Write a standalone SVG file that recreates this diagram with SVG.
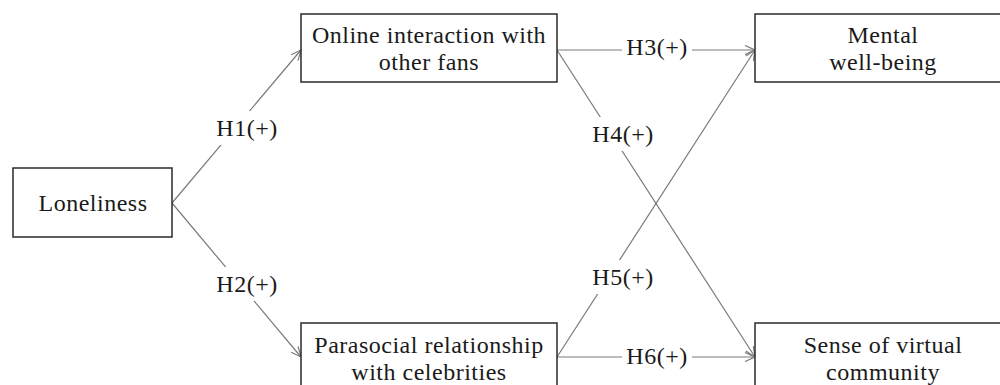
<svg xmlns="http://www.w3.org/2000/svg" width="1000" height="385" viewBox="0 0 1000 385">
<style>
.box{fill:#fff;stroke:#2a2a2a;stroke-width:1.5}
.t{font-family:"Liberation Serif","Times New Roman",serif;font-size:24px;fill:#1a1a1a;text-anchor:middle;letter-spacing:0.5px}
.edge{stroke:#7a7a7a;stroke-width:1.2;fill:none}
.lbg{fill:#fff;stroke:none}
</style>
<defs>
<marker id="arr" markerUnits="userSpaceOnUse" markerWidth="12" markerHeight="10" refX="11" refY="5" orient="auto" viewBox="0 0 12 10">
<path d="M1,0.5 L11,5 L1,9.5" fill="none" stroke="#7a7a7a" stroke-width="1.2"/>
</marker>
</defs>
<rect width="1000" height="385" fill="#fff"/>
<g id="connectors">
<line class="edge" x1="172" y1="203" x2="301" y2="50" marker-end="url(#arr)"/>
<line class="edge" x1="172" y1="203" x2="301" y2="357" marker-end="url(#arr)"/>
<line class="edge" x1="557" y1="50" x2="755" y2="50" marker-end="url(#arr)"/>
<line class="edge" x1="557" y1="50" x2="755" y2="357" marker-end="url(#arr)"/>
<line class="edge" x1="557" y1="357" x2="755" y2="50" marker-end="url(#arr)"/>
<line class="edge" x1="557" y1="357" x2="755" y2="357" marker-end="url(#arr)"/>
<g id="labels">
<rect class="lbg" x="213" y="111" width="68" height="34"/>
<text class="t" x="247" y="136">H1(+)</text>
<rect class="lbg" x="213" y="267" width="68" height="34"/>
<text class="t" x="247" y="292">H2(+)</text>
<rect class="lbg" x="622" y="32" width="70" height="32"/>
<text class="t" x="657" y="55">H3(+)</text>
<rect class="lbg" x="589" y="117" width="68" height="34"/>
<text class="t" x="623" y="142">H4(+)</text>
<rect class="lbg" x="589" y="260" width="68" height="34"/>
<text class="t" x="623" y="285">H5(+)</text>
<rect class="lbg" x="622" y="341" width="70" height="32"/>
<text class="t" x="657" y="364">H6(+)</text>
</g>
</g>
<g id="loneliness">
<rect class="box" x="13" y="168" width="159" height="69"/>
<text class="t" x="93" y="211">Loneliness</text>
</g>
<g id="online">
<rect class="box" x="301" y="14" width="256" height="68"/>
<text class="t" x="429" y="43">Online interaction with</text>
<text class="t" x="429" y="70">other fans</text>
</g>
<g id="parasocial">
<rect class="box" x="301" y="323" width="256" height="68"/>
<text class="t" x="429" y="353">Parasocial relationship</text>
<text class="t" x="429" y="380">with celebrities</text>
</g>
<g id="mental">
<rect class="box" x="755" y="14" width="256" height="68"/>
<text class="t" x="883" y="43">Mental</text>
<text class="t" x="883" y="70">well-being</text>
</g>
<g id="sense">
<rect class="box" x="755" y="323" width="256" height="68"/>
<text class="t" x="883" y="353">Sense of virtual</text>
<text class="t" x="883" y="380">community</text>
</g>
</svg>
